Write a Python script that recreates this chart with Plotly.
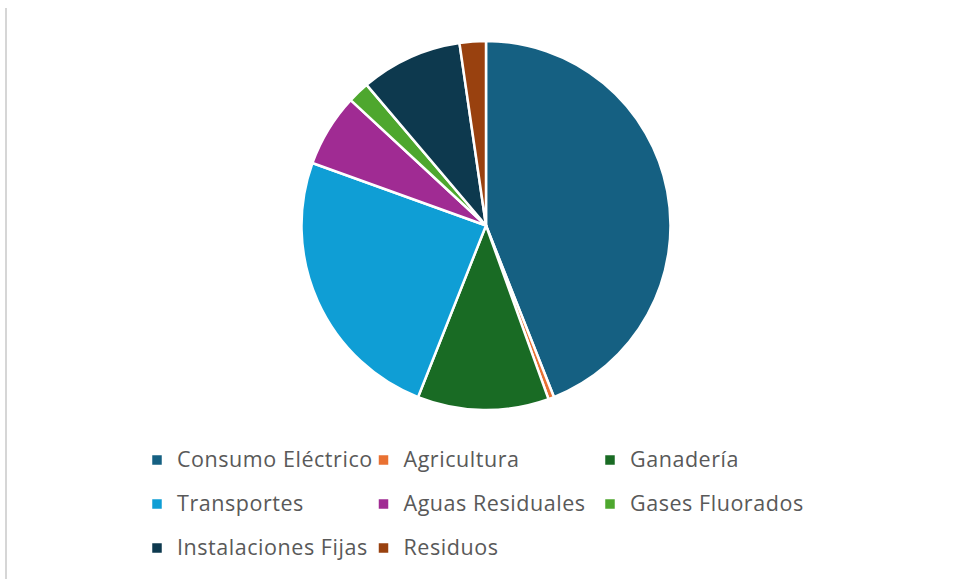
import plotly.graph_objects as go

categorias = ['Consumo Eléctrico', 'Agricultura', 'Ganadería', 'Transportes',
              'Aguas Residuales', 'Gases Fluorados', 'Instalaciones Fijas', 'Residuos']
porcentajes = [44.0, 0.5, 11.5, 24.5, 6.4, 1.9, 8.9, 2.3]
colores = ['#156082', '#E97132', '#196B24', '#0F9ED5',
           '#A02B93', '#4EA72E', '#0D394E', '#99410F']

W, H = 954, 579
ML, MR, MT, MB = 130, 124, 20, 20
pw, ph = W - ML - MR, H - MT - MB

# el texto de la leyenda va a 21.5px; la fuente base de la leyenda marca la altura de fila (44px)
etiquetas = [f"<span style='font-size:21.5px;letter-spacing:0.55px;baseline-shift:5px'>{c}</span>"
             for c in categorias]

fig = go.Figure(go.Pie(
    labels=etiquetas, values=porcentajes,
    sort=False, direction='clockwise', rotation=0,
    marker=dict(colors=colores, line=dict(color='white', width=2.5)),
    textinfo='none', hoverinfo='label+percent',
    domain=dict(x=[(486 - 184.5 - ML) / pw, (486 + 184.5 - ML) / pw],
                y=[(H - MB - 410) / ph, (H - MB - 41) / ph]),
))

fig.update_layout(
    width=W, height=H,
    margin=dict(l=ML, r=MR, t=MT, b=MB, autoexpand=False),
    paper_bgcolor='white', plot_bgcolor='white',
    font=dict(family='Open Sans', color='#595959'),
    showlegend=True,
    legend=dict(
        orientation='h', x=(137 - ML) / pw, xanchor='left',
        y=(H - MB - 433) / ph, yanchor='top',
        entrywidth=181.5, font=dict(size=31.5, color='#595959'),
        bgcolor='rgba(0,0,0,0)',
    ),
    shapes=[dict(type='line', xref='paper', yref='paper',
                 x0=(6 - ML) / pw, x1=(6 - ML) / pw,
                 y0=(H - MB - 8) / ph, y1=(H - MB - 579) / ph,
                 line=dict(color='#d6d6d6', width=2))],
)

# sin el margen por defecto del body, la figura ocupa la ventana entera
fig.write_html("out.html", config={'displayModeBar': False},
               post_script="document.body.style.margin='0';")
